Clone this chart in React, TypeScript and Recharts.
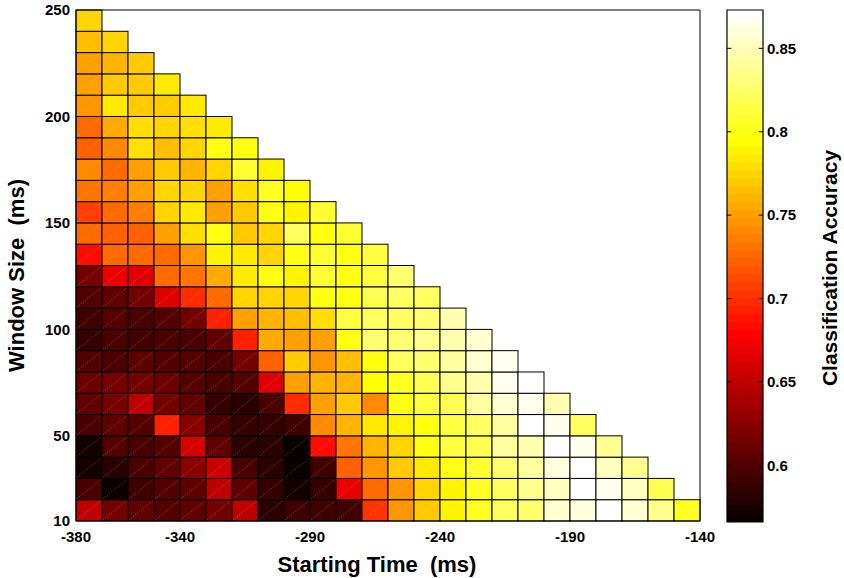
import React from 'react';
import { ComposedChart, XAxis, YAxis, Scatter, ReferenceArea, ReferenceLine } from 'recharts';

// ---- axes / categories ----
const startTimes = [-380, -370, -360, -350, -340, -330, -320, -310, -300, -290, -280, -270, -260, -250, -240, -230, -220, -210, -200, -190, -180, -170, -160, -150];
const windowSizes = [10, 20, 30, 40, 50, 60, 70, 80, 90, 100, 110, 120, 130, 140, 150, 160, 170, 180, 190, 200, 210, 220, 230, 240];
const xTicks = [-380, -340, -290, -240, -190, -140];
const yTicks = [10, 50, 100, 150, 200, 250];
const cbTicks = [0.6, 0.65, 0.7, 0.75, 0.8, 0.85];
const accMin = 0.566;
const accMax = 0.873;
const STEP = 10;

// ---- classification accuracy per window size (values for successive starting times) ----
const w240 = [0.773];
const w230 = [0.763, 0.773];
const w220 = [0.750, 0.761, 0.772];
const w210 = [0.753, 0.772, 0.770, 0.783];
const w200 = [0.745, 0.783, 0.772, 0.770, 0.783];
const w190 = [0.727, 0.757, 0.781, 0.773, 0.779, 0.783];
const w180 = [0.720, 0.743, 0.779, 0.765, 0.775, 0.798, 0.797];
const w170 = [0.743, 0.726, 0.750, 0.769, 0.762, 0.775, 0.810, 0.790];
const w160 = [0.730, 0.735, 0.753, 0.773, 0.773, 0.753, 0.781, 0.805, 0.792];
const w150 = [0.708, 0.727, 0.737, 0.773, 0.783, 0.753, 0.769, 0.797, 0.790, 0.810];
const w140 = [0.727, 0.722, 0.720, 0.750, 0.779, 0.797, 0.769, 0.776, 0.825, 0.797, 0.810];
const w130 = [0.682, 0.727, 0.727, 0.725, 0.747, 0.790, 0.783, 0.773, 0.800, 0.810, 0.800, 0.815];
const w120 = [0.614, 0.668, 0.665, 0.727, 0.731, 0.757, 0.783, 0.799, 0.790, 0.810, 0.800, 0.815, 0.828];
const w110 = [0.603, 0.609, 0.614, 0.663, 0.700, 0.727, 0.776, 0.773, 0.776, 0.797, 0.800, 0.820, 0.825, 0.825];
const w100 = [0.590, 0.600, 0.597, 0.600, 0.617, 0.694, 0.750, 0.761, 0.763, 0.781, 0.815, 0.825, 0.825, 0.828, 0.846];
const w90 = [0.588, 0.597, 0.594, 0.598, 0.597, 0.609, 0.694, 0.755, 0.750, 0.750, 0.800, 0.828, 0.828, 0.835, 0.846, 0.855];
const w80 = [0.603, 0.595, 0.607, 0.603, 0.600, 0.597, 0.618, 0.720, 0.769, 0.748, 0.767, 0.797, 0.825, 0.828, 0.840, 0.855, 0.865];
const w70 = [0.610, 0.614, 0.617, 0.610, 0.603, 0.597, 0.600, 0.665, 0.753, 0.762, 0.762, 0.793, 0.805, 0.820, 0.835, 0.846, 0.868, 0.874];
const w60 = [0.607, 0.614, 0.652, 0.617, 0.607, 0.588, 0.585, 0.595, 0.700, 0.753, 0.769, 0.743, 0.800, 0.815, 0.820, 0.840, 0.858, 0.868, 0.846];
const w50 = [0.595, 0.607, 0.603, 0.692, 0.626, 0.597, 0.588, 0.588, 0.592, 0.740, 0.762, 0.783, 0.787, 0.797, 0.815, 0.825, 0.840, 0.874, 0.865, 0.825];
const w40 = [0.572, 0.603, 0.597, 0.603, 0.660, 0.607, 0.585, 0.585, 0.570, 0.682, 0.730, 0.762, 0.773, 0.797, 0.815, 0.820, 0.840, 0.846, 0.874, 0.865, 0.835];
const w30 = [0.572, 0.585, 0.597, 0.607, 0.626, 0.655, 0.597, 0.581, 0.570, 0.594, 0.720, 0.747, 0.769, 0.783, 0.797, 0.810, 0.828, 0.840, 0.860, 0.874, 0.850, 0.835];
const w20 = [0.597, 0.570, 0.590, 0.600, 0.609, 0.652, 0.607, 0.587, 0.572, 0.588, 0.668, 0.727, 0.748, 0.776, 0.790, 0.805, 0.825, 0.835, 0.850, 0.874, 0.865, 0.850, 0.820];
const w10 = [0.652, 0.617, 0.607, 0.603, 0.607, 0.614, 0.652, 0.585, 0.590, 0.590, 0.594, 0.703, 0.747, 0.769, 0.788, 0.805, 0.825, 0.828, 0.855, 0.862, 0.874, 0.855, 0.835, 0.805];

const accuracyRows = [w10, w20, w30, w40, w50, w60, w70, w80, w90, w100, w110, w120, w130, w140, w150, w160, w170, w180, w190, w200, w210, w220, w230, w240];

// MATLAB "hot" colormap with 64 entries
const N = 64;
const hotColor = (k: number) => {
  const r = k < 24 ? (k + 1) / 24 : 1;
  const g = k < 24 ? 0 : k < 48 ? (k - 23) / 24 : 1;
  const b = k < 48 ? 0 : (k - 47) / 16;
  const h = (x: number) => Math.round(x * 255).toString(16).padStart(2, '0');
  return `#${h(r)}${h(g)}${h(b)}`;
};
const colorFor = (v: number) => {
  const t = (v - accMin) / (accMax - accMin);
  const k = Math.max(0, Math.min(N - 1, Math.floor(t * N)));
  return hotColor(k);
};

const cells: { x1: number; x2: number; y1: number; y2: number; v: number }[] = [];
accuracyRows.forEach((row, j) => {
  row.forEach((v, i) => {
    cells.push({ x1: startTimes[i], x2: startTimes[i] + STEP, y1: windowSizes[j], y2: windowSizes[j] + STEP, v });
  });
});

const bands = Array.from({ length: N }, (_, k) => ({
  y1: accMin + (k * (accMax - accMin)) / N,
  y2: accMin + ((k + 1) * (accMax - accMin)) / N,
  fill: hotColor(k),
}));

const FONT = '"Liberation Sans", Arial, Helvetica, sans-serif';
const tickStyle = { fill: '#000', fontSize: 15, fontWeight: 700, fontFamily: FONT };

const CellShape = (props: any) => {
  const { x, y, width, height, fill } = props;
  return (
    <g>
      <rect x={x} y={y} width={width} height={height} fill={fill} stroke="#000" strokeWidth={1} />
      <line x1={x + 1} y1={y + height - 1} x2={x + width - 1} y2={y + 1} stroke="#fff" strokeOpacity={0.3} strokeWidth={0.7} strokeDasharray="1.5 1" />
    </g>
  );
};

const cornerPts = [{ x: -380, y: 10 }, { x: -140, y: 250 }];
const cbPts = [{ x: 0, y: accMin }, { x: 1, y: accMax }];

export default function App() {
  return (
    <div style={{ position: 'absolute', left: 0, top: 0, width: 844, height: 578, background: '#fff' }}>
      <div style={{ position: 'absolute', left: 0, top: 0 }}>
        <ComposedChart width={844} height={578} data={cornerPts} margin={{ top: 10, right: 144, bottom: 27, left: 0 }}>
          <XAxis
            type="number"
            dataKey="x"
            domain={[-380, -140]}
            allowDataOverflow
            ticks={xTicks}
            interval={0}
            axisLine={false}
            tickLine={false}
            tickSize={6}
            tickMargin={4}
            height={30}
            tick={tickStyle}
            label={{
              content: (p: any) => {
                const vb = p.viewBox;
                const cx = vb.x + vb.width / 2 - 11;
                return (
                  <text x={cx} y={572} textAnchor="middle" fontFamily={FONT} fontWeight={700} fontSize={22} fill="#000">
                    {'Starting Time \u00a0(ms)'}
                  </text>
                );
              },
            }}
          />
          <YAxis
            type="number"
            dataKey="y"
            domain={[10, 250]}
            allowDataOverflow
            ticks={yTicks}
            interval={0}
            axisLine={false}
            tickLine={false}
            tickSize={5}
            tickMargin={1}
            width={76}
            tick={tickStyle}
            label={{
              content: (p: any) => {
                const vb = p.viewBox;
                const cx = 24;
                const cy = vb.y + vb.height / 2 + 10;
                return (
                  <text x={cx} y={cy} transform={`rotate(-90 ${cx} ${cy})`} textAnchor="middle" fontFamily={FONT} fontWeight={700} fontSize={22} fill="#000">
                    {'Window Size \u00a0(ms)'}
                  </text>
                );
              },
            }}
          />
          <Scatter dataKey="y" isAnimationActive={false} shape={() => <g />} />
          {cells.map((c, idx) => (
            <ReferenceArea
              key={idx}
              x1={c.x1}
              x2={c.x2}
              y1={c.y1}
              y2={c.y2}
              fill={colorFor(c.v)}
              fillOpacity={1}
              stroke="#000"
              ifOverflow="visible"
              shape={CellShape}
            />
          ))}
          <ReferenceArea x1={-380} x2={-140} y1={10} y2={250} fill="none" fillOpacity={0} stroke="#000" strokeWidth={1} ifOverflow="visible" />
        </ComposedChart>
      </div>
      <div style={{ position: 'absolute', left: 0, top: 0 }}>
        <ComposedChart width={844} height={578} data={cbPts} margin={{ top: 10, right: 1, bottom: 56, left: 727 }}>
          <XAxis type="number" dataKey="x" domain={[0, 1]} allowDataOverflow hide />
          <YAxis
            type="number"
            dataKey="y"
            orientation="right"
            domain={[accMin, accMax]}
            allowDataOverflow
            ticks={cbTicks}
            interval={0}
            tickFormatter={(v: number) => String(v)}
            axisLine={false}
            tickLine={false}
            tickSize={3}
            tickMargin={1}
            width={80}
            tick={{ ...tickStyle, textAnchor: 'start' }}
            label={{
              content: (p: any) => {
                const vb = p.viewBox;
                const cx = 829;
                const cy = vb.y + vb.height / 2 + 2;
                return (
                  <text x={cx} y={cy} transform={`rotate(-90 ${cx} ${cy})`} textAnchor="middle" dominantBaseline="central" fontFamily={FONT} fontWeight={700} fontSize={21} fill="#000">
                    Classification Accuracy
                  </text>
                );
              },
            }}
          />
          <Scatter dataKey="y" isAnimationActive={false} shape={() => <g />} />
          {bands.map((b, k) => (
            <ReferenceArea key={k} x1={0} x2={1} y1={b.y1} y2={b.y2} fill={b.fill} fillOpacity={1} stroke="none" ifOverflow="visible" />
          ))}
          {cbTicks.map((t) => (
            <ReferenceLine key={`l${t}`} segment={[{ x: 0, y: t }, { x: 0.12, y: t }]} stroke="#000" strokeWidth={1} ifOverflow="visible" />
          ))}
          {cbTicks.map((t) => (
            <ReferenceLine key={`r${t}`} segment={[{ x: 0.88, y: t }, { x: 1, y: t }]} stroke="#000" strokeWidth={1} ifOverflow="visible" />
          ))}
          <ReferenceArea x1={0} x2={1} y1={accMin} y2={accMax} fill="none" fillOpacity={0} stroke="#000" strokeWidth={1.2} ifOverflow="visible" />
        </ComposedChart>
      </div>
    </div>
  );
}
